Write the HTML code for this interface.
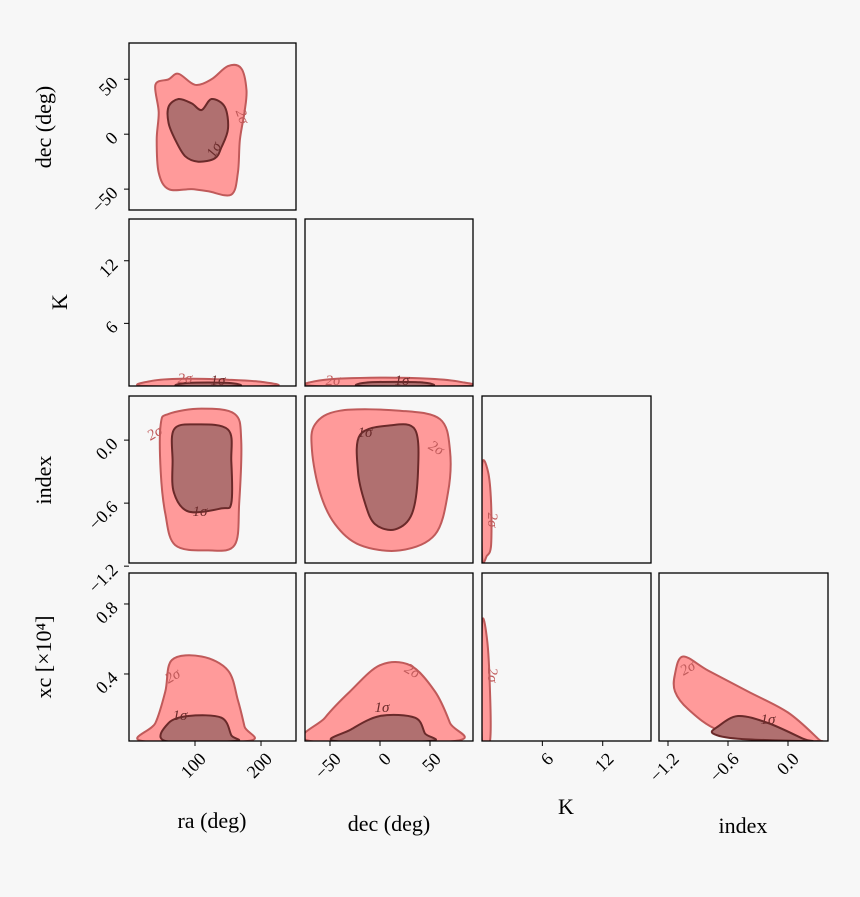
<!DOCTYPE html>
<html><head><meta charset="utf-8"><style>
body{margin:0;background:#f7f7f7;}
svg{display:block;font-family:"Liberation Serif",serif;}
</style></head><body>
<svg id="c" width="860" height="897" xmlns="http://www.w3.org/2000/svg"></svg>
<script>
// variable ranges (data units)
const varNames = ["ra","dec","K","index","xc"];
const xRanges = {ra:[0,253], dec:[-75,93], K:[0,16.8], index:[-1.29,0.4]};
const yRanges = {dec:[-69,83], K:[0,16], index:[-1.17,0.42], xc:[0.017,0.977]};
const xTicks = {ra:[100,200], dec:[-50,0,50], K:[6,12], index:[-1.2,-0.6,0.0]};
const xTickLabels = {ra:["100","200"], dec:["\u221250","0","50"], K:["6","12"], index:["\u22121.2","\u22120.6","0.0"]};
const yTicks = {dec:[50,0,-50], K:[12,6], index:[0.0,-0.6,-1.2], xc:[0.8,0.4]};
const yTickLabels = {dec:["50","0","\u221250"], K:["12","6"], index:["0.0","\u22120.6","\u22121.2"], xc:["0.8","0.4"]};
// contour polygons [x,y] in data units, keyed "xvar|yvar"
const outer = {
 "ra|dec":[[40,45],[60,50],[75,55],[100,45],[125,50],[150,62],[170,60],[178,40],[175,20],[168,-5],[165,-35],[155,-55],[120,-52],[95,-50],[60,-50],[45,-35],[42,-5],[45,20]],
 "ra|K":[[25,0],[35,0.5],[80,0.7],[150,0.6],[200,0.4],[215,0]],
 "dec|K":[[-65,0],[-55,0.6],[0,0.8],[50,0.7],[80,0.4],[85,0]],
 "ra|index":[[48,0.15],[60,0.25],[110,0.3],[160,0.25],[170,0.0],[167,-0.6],[160,-1.0],[120,-1.05],[70,-1.0],[55,-0.7],[48,-0.3]],
 "dec|index":[[-65,0.15],[-40,0.28],[20,0.28],[60,0.2],[70,-0.1],[68,-0.5],[55,-0.9],[20,-1.05],[-20,-1.0],[-45,-0.8],[-60,-0.5],[-68,-0.1]],
 "K|index":[[0,-0.25],[0.6,-0.3],[0.9,-0.6],[0.9,-1.0],[0.5,-1.1],[0,-1.1]],
 "ra|xc":[[20,0.017],[40,0.12],[55,0.3],[65,0.48],[110,0.5],[150,0.42],[165,0.25],[175,0.1],[180,0.017]],
 "dec|xc":[[-70,0.017],[-55,0.15],[-30,0.3],[0,0.45],[30,0.45],[55,0.3],[70,0.12],[75,0.017]],
 "K|xc":[[0,0.017],[0,0.68],[0.5,0.6],[0.8,0.3],[0.8,0.017]],
 "index|xc":[[-1.13,0.4],[-1.05,0.5],[-0.8,0.42],[-0.4,0.3],[0.0,0.18],[0.3,0.03],[0.3,0.017],[-0.2,0.017],[-0.7,0.08],[-1.0,0.2],[-1.13,0.3]]
};
const inner = {
 "ra|dec":[[60,25],[75,32],[95,28],[110,22],[125,32],[145,25],[150,5],[140,-12],[130,-22],[105,-25],[85,-20],[70,-5],[60,10]],
 "ra|K":[[75,0],[90,0.3],[150,0.3],[165,0]],
 "dec|K":[[-20,0],[-10,0.35],[40,0.35],[50,0]],
 "ra|index":[[68,0.1],[100,0.15],[150,0.1],[155,-0.2],[155,-0.6],[140,-0.65],[90,-0.68],[68,-0.5],[66,-0.2]],
 "dec|index":[[-20,0.05],[10,0.14],[35,0.1],[38,-0.3],[32,-0.7],[15,-0.85],[-5,-0.8],[-15,-0.6],[-22,-0.3]],
 "ra|xc":[[55,0.017],[60,0.12],[90,0.16],[140,0.15],[155,0.05],[160,0.017]],
 "dec|xc":[[-45,0.017],[-30,0.08],[0,0.16],[35,0.15],[45,0.06],[50,0.017]],
 "index|xc":[[-0.7,0.1],[-0.5,0.16],[-0.2,0.12],[0.15,0.03],[0.2,0.017],[-0.5,0.03],[-0.75,0.06]]
};
const cols = [[129,296],[305,473],[482,651],[659,828]];
const rows = [[43,210],[219,386],[396,563],[573,741]];
const svg = document.getElementById('c');
const NS = "http://www.w3.org/2000/svg";
function mk(tag, attrs, parent){const e=document.createElementNS(NS,tag);for(const k in attrs)e.setAttribute(k,attrs[k]);(parent||svg).appendChild(e);return e;}
function sx(v,c){const r=xRanges[varNames[c]];return cols[c][0]+(v-r[0])/(r[1]-r[0])*(cols[c][1]-cols[c][0]);}
function sy(v,rw){const r=yRanges[varNames[rw+1]];return rows[rw][1]-(v-r[0])/(r[1]-r[0])*(rows[rw][1]-rows[rw][0]);}
function smooth(pts){
 const n=pts.length;let d="M"+pts[0][0].toFixed(1)+","+pts[0][1].toFixed(1);
 for(let i=0;i<n;i++){const p0=pts[(i-1+n)%n],p1=pts[i],p2=pts[(i+1)%n],p3=pts[(i+2)%n];
  const c1=[p1[0]+(p2[0]-p0[0])/6,p1[1]+(p2[1]-p0[1])/6],c2=[p2[0]-(p3[0]-p1[0])/6,p2[1]-(p3[1]-p1[1])/6];
  d+="C"+c1.map(v=>v.toFixed(1))+" "+c2.map(v=>v.toFixed(1))+" "+p2.map(v=>v.toFixed(1));}
 return d+"Z";}
for(let rw=0;rw<4;rw++){for(let c=0;c<=rw;c++){
 const key=varNames[c]+"|"+varNames[rw+1];
 const g=mk('g',{});
 
 
 const clipId='clip'+rw+c;
 const cp=mk('clipPath',{id:clipId},g);
 mk('rect',{x:cols[c][0],y:rows[rw][0],width:cols[c][1]-cols[c][0],height:rows[rw][1]-rows[rw][0]},cp);
 const cg=mk('g',{'clip-path':'url(#'+clipId+')'},g);
 if(outer[key]){const p=mk('path',{d:smooth(outer[key].map(q=>[sx(q[0],c),sy(q[1],rw)])),fill:'#ff9a9a',stroke:'#c05a5a','stroke-width':2},cg);
  }
 if(inner[key]){const p=mk('path',{d:smooth(inner[key].map(q=>[sx(q[0],c),sy(q[1],rw)])),fill:'#b07070',stroke:'#6a2a2a','stroke-width':2},cg);
  }
 const fr=mk('rect',{x:cols[c][0],y:rows[rw][0],width:cols[c][1]-cols[c][0],height:rows[rw][1]-rows[rw][0],fill:'none',stroke:'#000','stroke-width':1.3},g);
 
 if(c===0){const v=varNames[rw+1];yTicks[v].forEach((t,i)=>{const y=sy(t,rw);
  mk('line',{x1:129,x2:124,y1:y,y2:y,stroke:'#000'},g);
  const tx=mk('text',{x:116,y:y+2,'font-size':18,'text-anchor':'end',transform:'rotate(-45 116 '+(y+2)+')','dominant-baseline':'middle'},g);
  tx.textContent=yTickLabels[v][i];});}
 if(rw===3){const v=varNames[c];xTicks[v].forEach((t,i)=>{const x=sx(t,c);
  mk('line',{x1:x,x2:x,y1:741,y2:746,stroke:'#000'},g);
  const tx=mk('text',{x:x+3,y:751,'font-size':18,'text-anchor':'end',transform:'rotate(-45 '+(x+3)+' 751)','dominant-baseline':'hanging'},g);
  tx.textContent=xTickLabels[v][i];});}
}}
</script>
<script>
const s=document.getElementById('c');
const NS2="http://www.w3.org/2000/svg";
function t(x,y,txt,size,rot,name,extra){const e=document.createElementNS(NS2,'text');e.setAttribute('x',x);e.setAttribute('y',y);e.setAttribute('font-size',size);e.setAttribute('text-anchor','middle');if(rot)e.setAttribute('transform','rotate('+rot+' '+x+' '+y+')');if(extra)for(const k in extra)e.setAttribute(k,extra[k]);e.textContent=txt;


s.appendChild(e);}
t(212,828,"ra (deg)",22,0,"x-axis-title-ra");
t(389,831,"dec (deg)",22,0,"x-axis-title-dec");
t(566,814,"K",22,0,"x-axis-title-k");
t(743,833,"index",22,0,"x-axis-title-index");
t(51,127,"dec (deg)",22,-90,"y-axis-title-dec");
t(67,302,"K",22,-90,"y-axis-title-k");
t(51,480,"index",22,-90,"y-axis-title-index");
t(51,657,"xc [\u00d710\u2074]",22,-90,"y-axis-title-xc");
const lab=[[238,118,"2\u03c3",70,'#c05a5a'],[218,152,"1\u03c3",-60,'#6a2a2a'],[185,383,"2\u03c3",0,'#c05a5a'],[218,385,"1\u03c3",0,'#6a2a2a'],[333,385,"2\u03c3",0,'#c05a5a'],[402,385,"1\u03c3",0,'#6a2a2a'],
[157,437,"2\u03c3",-30,'#c05a5a'],[200,516,"1\u03c3",0,'#6a2a2a'],[365,437,"1\u03c3",0,'#6a2a2a'],[434,452,"2\u03c3",30,'#c05a5a'],[488,520,"2\u03c3",90,'#c05a5a'],
[175,680,"2\u03c3",-30,'#c05a5a'],[180,720,"1\u03c3",0,'#6a2a2a'],[382,712,"1\u03c3",0,'#6a2a2a'],[410,675,"2\u03c3",30,'#c05a5a'],[488,675,"2\u03c3",90,'#c05a5a'],[690,672,"2\u03c3",-30,'#c05a5a'],[768,724,"1\u03c3",0,'#6a2a2a']];
lab.forEach(l=>t(l[0],l[1],l[2],15,l[3],"contour-label",{fill:l[4],'font-style':'italic'}));
</script>
</body></html>
